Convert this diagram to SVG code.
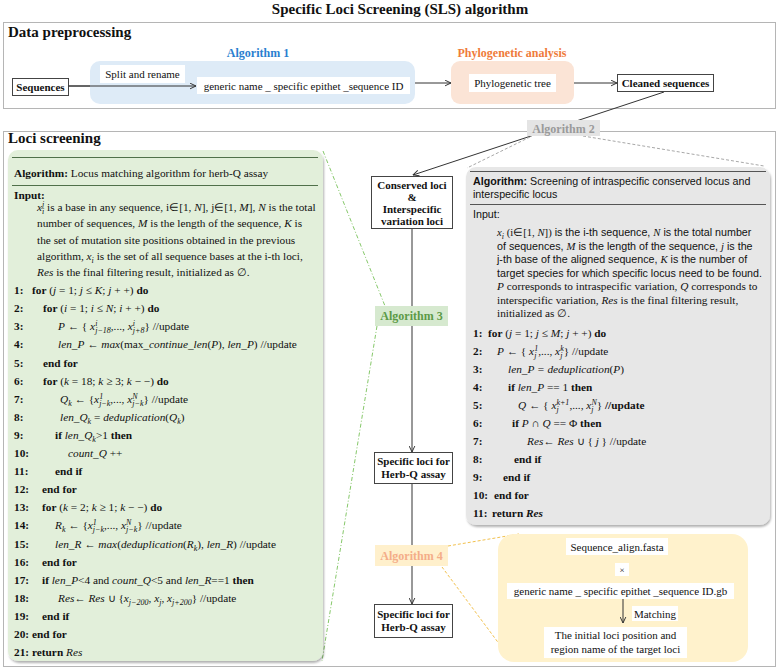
<svg xmlns="http://www.w3.org/2000/svg" width="778" height="670" viewBox="0 0 778 670">
<defs>
<style>
text { font-family: "Liberation Serif", "Times New Roman", serif; fill: #111; }
.h { font-size: 15px; font-weight: bold; }
.nd { font-size: 11px; font-weight: bold; text-anchor: middle; }
.lb { font-size: 12px; font-weight: bold; text-anchor: middle; }
.w { font-size: 11px; text-anchor: middle; }
.c { font-size: 11.3px; }
.s { font-family: "Liberation Sans", Arial, sans-serif; font-size: 10.7px; }
.r { font-family: "Liberation Serif", "Times New Roman", serif; }
.m { font-family: "Liberation Serif", "Times New Roman", serif; font-style: italic; }
.b { font-weight: bold; }
.i { font-style: italic; }
.sc { font-size: 8px; font-style: italic; font-family: "Liberation Serif", "Times New Roman", serif; }
.border { fill: none; stroke: #6b6b6b; stroke-width: 1; stroke-dasharray: 1 1; }
.box { fill: #fff; stroke: #444; stroke-width: 1; }
.wb { fill: #fff; }
.ln { fill: none; stroke: #333; stroke-width: 1; }
.hr { stroke-width: 1; }
</style>
<marker id="ah" viewBox="0 0 10 10" refX="9.5" refY="5" markerWidth="7" markerHeight="7" orient="auto" markerUnits="userSpaceOnUse">
<path d="M1,1 L9.5,5 L1,9" fill="none" stroke="#333" stroke-width="1.4"/>
</marker>
<filter id="sh" x="-5%" y="-5%" width="110%" height="110%">
<feDropShadow dx="1" dy="2" stdDeviation="1.2" flood-color="#000" flood-opacity="0.3"/>
</filter>
</defs>

<g id="title">
<text x="400" y="14" class="h" text-anchor="middle">Specific Loci Screening (SLS) algorithm</text>
</g>

<g id="data-preprocessing">
<rect x="3.5" y="22.5" width="772" height="86" class="border"/>
<text x="8" y="37" class="h">Data preprocessing</text>
</g>

<g id="loci-screening">
<rect x="3.5" y="131.5" width="772" height="535" class="border"/>
<text x="8" y="143" class="h">Loci screening</text>
</g>

<g id="connectors">
<path d="M68,86 H196" class="ln" marker-end="url(#ah)"/>
<path d="M410,83 H451" class="ln" marker-end="url(#ah)"/>
<path d="M574,83 H617" class="ln" marker-end="url(#ah)"/>
<path d="M664,92 L413,175" class="ln" marker-end="url(#ah)"/>
<path d="M412,229 V452" class="ln" marker-end="url(#ah)"/>
<path d="M412,484 V604" class="ln" marker-end="url(#ah)"/>
<path d="M323,151 L385,306" fill="none" stroke="#86c86a" stroke-width="1" stroke-dasharray="4 2 1 2"/>
<path d="M377,326 L322,661" fill="none" stroke="#86c86a" stroke-width="1" stroke-dasharray="4 2 1 2"/>
<path d="M530,137 L467,168" fill="none" stroke="#a8a8a8" stroke-width="1" stroke-dasharray="3 2"/>
<path d="M583,136 L764,166" fill="none" stroke="#a8a8a8" stroke-width="1" stroke-dasharray="3 2"/>
<path d="M448,546 L519,534" fill="none" stroke="#f2c14e" stroke-width="1" stroke-dasharray="3 2"/>
<path d="M442,567 L500,645" fill="none" stroke="#f2c14e" stroke-width="1" stroke-dasharray="3 2"/>
<path d="M623,599 V623" class="ln" marker-end="url(#ah)"/>
</g>

<g id="sequences">
<rect x="12.5" y="78.5" width="56" height="17" class="box"/>
<text x="40.5" y="91" class="nd">Sequences</text>
</g>

<g id="algorithm-1">
<text x="258" y="57" class="lb" fill="#2a7fd0" style="fill:#2a7fd0">Algorithm 1</text>
<rect x="90" y="61" width="325" height="43" rx="10" fill="#deebf7"/>
<rect x="100" y="65" width="85" height="18" class="wb"/>
<text x="142.5" y="78" class="w">Split and rename</text>
<rect x="197" y="77" width="213" height="17" class="wb"/>
<text x="303.5" y="89.5" class="w">generic name _ specific epithet _sequence ID</text>
<path d="M68,86 H196" class="ln" marker-end="url(#ah)"/>
</g>

<g id="phylogenetic-analysis">
<text x="512" y="57" class="lb" style="fill:#ef7b3a">Phylogenetic analysis</text>
<rect x="451" y="61" width="123" height="43" rx="9" fill="#fbe4d6"/>
<rect x="469" y="74" width="87" height="18" class="wb"/>
<text x="512.5" y="87" class="w">Phylogenetic tree</text>
</g>

<g id="cleaned-sequences">
<rect x="617.5" y="74.5" width="96" height="17" class="box"/>
<text x="665.5" y="87" class="nd">Cleaned sequences</text>
</g>

<g id="algorithm-2-label">
<rect x="527" y="120" width="73" height="16" fill="#e4e4e4"/>
<text x="563.5" y="132.5" class="lb" style="fill:#9a9a9a">Algorithm 2</text>
</g>

<g id="conserved-loci">
<rect x="371.5" y="176.5" width="81" height="52" class="box"/>
<text x="412" y="189" class="nd">Conserved loci</text>
<text x="412" y="201" class="nd">&amp;</text>
<text x="412" y="213" class="nd">Interspecific</text>
<text x="412" y="225" class="nd">variation loci</text>
</g>

<g id="algorithm-3-label">
<rect x="375" y="306" width="73" height="20" fill="#d6e9cf"/>
<text x="411.5" y="320" class="lb" style="fill:#5c9a47">Algorithm 3</text>
</g>

<g id="specific-loci-1">
<rect x="374.5" y="452.5" width="78" height="31" class="box"/>
<text x="413.5" y="465" class="nd">Specific loci for</text>
<text x="413.5" y="478" class="nd">Herb-Q assay</text>
</g>

<g id="algorithm-4-label">
<rect x="375" y="545" width="73" height="21" fill="#fff0cc"/>
<text x="411.5" y="560" class="lb" style="fill:#f4ad88">Algorithm 4</text>
</g>

<g id="specific-loci-2">
<rect x="374.5" y="604.5" width="78" height="33" class="box"/>
<text x="413.5" y="618" class="nd">Specific loci for</text>
<text x="413.5" y="631" class="nd">Herb-Q assay</text>
</g>

<g id="algorithm-3-box">
<rect x="8" y="150" width="315" height="511" rx="10" fill="#e2efda" filter="url(#sh)"/>
<line x1="12" y1="157.5" x2="318" y2="157.5" stroke="#50704a" class="hr"/>
<line x1="12" y1="185.5" x2="318" y2="185.5" stroke="#50704a" class="hr"/>
<text x="14" y="177" class="c"><tspan class="b">Algorithm:</tspan> Locus matching algorithm for herb-Q assay</text>
<text x="14" y="199" class="c b">Input:</text>
<text x="37" y="211" class="c"><tspan class="i">x</tspan><tspan class="sc" dy="-4">j</tspan><tspan class="sc" dx="-2.2" dy="7">i</tspan><tspan dy="-3"> is a base in any sequence, i∈[1, </tspan><tspan class="i">N</tspan>], j∈[1, <tspan class="i">M</tspan>], <tspan class="i">N</tspan> is the total</text>
<text x="37" y="227" class="c">number of sequences, <tspan class="i">M</tspan> is the length of the sequence, <tspan class="i">K</tspan> is</text>
<text x="37" y="244" class="c">the set of mutation site positions obtained in the previous</text>
<text x="37" y="260" class="c">algorithm, <tspan class="i">x</tspan><tspan class="sc" dy="3">i</tspan><tspan dy="-3"> is the set of all sequence bases at the i-th loci,</tspan></text>
<text x="37" y="276" class="c"><tspan class="i">Res</tspan> is the final filtering result, initialized as ∅.</text>

<text y="294" class="c"><tspan x="14" class="b">1:</tspan><tspan x="32" class="b">for</tspan> (<tspan class="i">j</tspan> = 1; <tspan class="i">j</tspan> ≤ <tspan class="i">K</tspan>; <tspan class="i">j</tspan> + +) <tspan class="b">do</tspan></text>
<text y="312" class="c"><tspan x="14" class="b">2:</tspan><tspan x="43" class="b">for</tspan> (<tspan class="i">i</tspan> = 1; <tspan class="i">i</tspan> ≤ <tspan class="i">N</tspan>; <tspan class="i">i</tspan> + +) <tspan class="b">do</tspan></text>
<text y="330" class="c"><tspan x="14" class="b">3:</tspan><tspan x="58" class="i">P</tspan> ← { <tspan class="i">x</tspan><tspan class="sc" dy="-4">i</tspan><tspan class="sc" dx="-2.2" dy="7">j−18</tspan><tspan dy="-3">,..., </tspan><tspan class="i">x</tspan><tspan class="sc" dy="-4">i</tspan><tspan class="sc" dx="-2.2" dy="7">j+8</tspan><tspan dy="-3">} //update</tspan></text>
<text y="348" class="c"><tspan x="14" class="b">4:</tspan><tspan x="58" class="i">len_P</tspan> ← <tspan class="i">max</tspan>(max_<tspan class="i">continue_len</tspan>(<tspan class="i">P</tspan>), <tspan class="i">len_P</tspan>) //update</text>
<text y="366.5" class="c"><tspan x="14" class="b">5:</tspan><tspan x="43" class="b">end for</tspan></text>
<text y="384.5" class="c"><tspan x="14" class="b">6:</tspan><tspan x="43" class="b">for</tspan>  (<tspan class="i">k</tspan> = 18; <tspan class="i">k</tspan> ≥ 3; <tspan class="i">k</tspan> − −) <tspan class="b">do</tspan></text>
<text y="402.5" class="c"><tspan x="14" class="b">7:</tspan><tspan x="60" class="i">Q</tspan><tspan class="sc" dy="3">k</tspan><tspan dy="-3">  ← {</tspan><tspan class="i">x</tspan><tspan class="sc" dy="-4">1</tspan><tspan class="sc" dx="-4" dy="7">j−k</tspan><tspan dy="-3">,..., </tspan><tspan class="i">x</tspan><tspan class="sc" dy="-4">N</tspan><tspan class="sc" dx="-5.3" dy="7">j−k</tspan><tspan dy="-3">} //update</tspan></text>
<text y="420.5" class="c"><tspan x="14" class="b">8:</tspan><tspan x="60" class="i">len_Q</tspan><tspan class="sc" dy="3">k</tspan><tspan dy="-3"> = </tspan><tspan class="i">deduplication</tspan>(<tspan class="i">Q</tspan><tspan class="sc" dy="3">k</tspan><tspan dy="-3">)</tspan></text>
<text y="439" class="c"><tspan x="14" class="b">9:</tspan><tspan x="55" class="b">if</tspan> <tspan class="i">len_Q</tspan><tspan class="sc" dy="3">k</tspan><tspan dy="-3">&gt;1 </tspan><tspan class="b">then</tspan></text>
<text y="457" class="c"><tspan x="14" class="b">10:</tspan><tspan x="68" class="i">count_Q</tspan> ++</text>
<text y="475" class="c"><tspan x="14" class="b">11:</tspan><tspan x="55" class="b">end if</tspan></text>
<text y="493" class="c"><tspan x="14" class="b">12:</tspan><tspan x="42" class="b">end for</tspan></text>
<text y="511" class="c"><tspan x="14" class="b">13:</tspan><tspan x="42" class="b">for</tspan>  (<tspan class="i">k</tspan> = 2; <tspan class="i">k</tspan> ≥ 1; <tspan class="i">k</tspan> − −) <tspan class="b">do</tspan></text>
<text y="529" class="c"><tspan x="14" class="b">14:</tspan><tspan x="55" class="i">R</tspan><tspan class="sc" dy="3">k</tspan><tspan dy="-3"> ← {</tspan><tspan class="i">x</tspan><tspan class="sc" dy="-4">1</tspan><tspan class="sc" dx="-4" dy="7">j−k</tspan><tspan dy="-3">,..., </tspan><tspan class="i">x</tspan><tspan class="sc" dy="-4">N</tspan><tspan class="sc" dx="-5.3" dy="7">j−k</tspan><tspan dy="-3">} //update</tspan></text>
<text y="547.5" class="c"><tspan x="14" class="b">15:</tspan><tspan x="55" class="i">len_R</tspan> ← <tspan class="i">max</tspan>(<tspan class="i">deduplication</tspan>(<tspan class="i">R</tspan><tspan class="sc" dy="3">k</tspan><tspan dy="-3">), </tspan><tspan class="i">len_R</tspan>) //update</text>
<text y="565.5" class="c"><tspan x="14" class="b">16:</tspan><tspan x="42" class="b">end for</tspan></text>
<text y="583.5" class="c"><tspan x="14" class="b">17:</tspan><tspan x="42" class="b">if</tspan> <tspan class="i">len_P</tspan>&lt;4 and <tspan class="i">count_Q</tspan>&lt;5 and <tspan class="i">len_R</tspan>==1 <tspan class="b">then</tspan></text>
<text y="601.5" class="c"><tspan x="14" class="b">18:</tspan><tspan x="58" class="i">Res</tspan>← <tspan class="i">Res</tspan> ∪ {<tspan class="i">x</tspan><tspan class="sc" dy="3">j−200</tspan><tspan dy="-3">, </tspan><tspan class="i">x</tspan><tspan class="sc" dy="3">j</tspan><tspan dy="-3">, </tspan><tspan class="i">x</tspan><tspan class="sc" dy="3">j+200</tspan><tspan dy="-3">}  //update</tspan></text>
<text y="620" class="c"><tspan x="14" class="b">19:</tspan><tspan x="42" class="b">end if</tspan></text>
<text y="638" class="c"><tspan x="14" class="b">20:</tspan><tspan x="32" class="b">end for</tspan></text>
<text y="656" class="c"><tspan x="14" class="b">21:</tspan><tspan x="32" class="b">return</tspan> <tspan class="i">Res</tspan></text>
</g>

<g id="algorithm-2-box">
<rect x="466" y="167" width="304" height="358" rx="10" fill="#e7e7e7" filter="url(#sh)"/>
<line x1="470" y1="171.5" x2="766" y2="171.5" stroke="#555" class="hr"/>
<line x1="470" y1="204.5" x2="766" y2="204.5" stroke="#555" class="hr"/>
<text x="473" y="185" class="s"><tspan class="b">Algorithm:</tspan> Screening of intraspecific conserved locus and</text>
<text x="473" y="198" class="s">interspecific locus</text>
<text x="473" y="218" class="s">Input:</text>
<text x="497" y="236" class="s"><tspan class="m">x</tspan><tspan class="sc" dy="3">i</tspan><tspan dy="-3" class="r"> (i∈[1, </tspan><tspan class="m">N</tspan><tspan class="r">])</tspan> is the i-th sequence, <tspan class="m">N</tspan> is the total number</text>
<text x="497" y="249.5" class="s">of sequences, <tspan class="m">M</tspan> is the length of the sequence, <tspan class="m">j</tspan> is the</text>
<text x="497" y="263" class="s">j-th base of the aligned sequence, <tspan class="m">K</tspan> is the number of</text>
<text x="497" y="276.5" class="s">target species for which specific locus need to be found.</text>
<text x="497" y="290" class="c"><tspan class="i">P</tspan> corresponds to intraspecific variation, <tspan class="i">Q</tspan> corresponds to</text>
<text x="497" y="303.5" class="c">interspecific variation, <tspan class="i">Res</tspan> is the final filtering result,</text>
<text x="497" y="317" class="c">initialized as ∅.</text>

<text y="337" class="c"><tspan x="473" class="b">1:</tspan><tspan x="488" class="b">for</tspan> (<tspan class="i">j</tspan> = 1; <tspan class="i">j</tspan> ≤ <tspan class="i">M</tspan>; <tspan class="i">j</tspan> + +)  <tspan class="b">do</tspan></text>
<text y="355" class="c"><tspan x="473" class="b">2:</tspan><tspan x="497" class="i">P</tspan> ← { <tspan class="i">x</tspan><tspan class="sc" dy="3">j</tspan><tspan class="sc" dx="-2.2" dy="-7">1</tspan><tspan dy="4">,..., </tspan><tspan class="i">x</tspan><tspan class="sc" dy="3">j</tspan><tspan class="sc" dx="-2.2" dy="-7">k</tspan><tspan dy="4">} //update</tspan></text>
<text y="373" class="c"><tspan x="473" class="b">3:</tspan><tspan x="508" class="i">len_P = deduplication</tspan>(<tspan class="i">P</tspan>)</text>
<text y="391" class="c"><tspan x="473" class="b">4:</tspan><tspan x="508" class="b">if</tspan> <tspan class="i">len_P</tspan> == 1 <tspan class="b">then</tspan></text>
<text y="409" class="c"><tspan x="473" class="b">5:</tspan><tspan x="518" class="i">Q</tspan> ← { <tspan class="i">x</tspan><tspan class="sc" dy="3">j</tspan><tspan class="sc" dx="-2.2" dy="-7">k+1</tspan><tspan dy="4">,..., </tspan><tspan class="i">x</tspan><tspan class="sc" dy="3">j</tspan><tspan class="sc" dx="-2.2" dy="-7">N</tspan><tspan dy="4">} </tspan><tspan class="b">//update</tspan></text>
<text y="427" class="c"><tspan x="473" class="b">6:</tspan><tspan x="512" class="b">if</tspan>  <tspan class="i">P</tspan>  ∩  <tspan class="i">Q</tspan>  ==  Φ <tspan class="b">then</tspan></text>
<text y="445" class="c"><tspan x="473" class="b">7:</tspan><tspan x="527" class="i">Res</tspan>← <tspan class="i">Res</tspan> ∪ { <tspan class="i">j</tspan> } //update</text>
<text y="463" class="c"><tspan x="473" class="b">8:</tspan><tspan x="514" class="b">end if</tspan></text>
<text y="481" class="c"><tspan x="473" class="b">9:</tspan><tspan x="503" class="b">end if</tspan></text>
<text y="499" class="c"><tspan x="473" class="b">10:</tspan><tspan x="494" class="b">end for</tspan></text>
<text y="517" class="c"><tspan x="473" class="b">11:</tspan><tspan x="492" class="b">return</tspan> <tspan class="b i">Res</tspan></text>
</g>

<g id="algorithm-4-box">
<rect x="498" y="534" width="250" height="128" rx="16" fill="#fff2cc"/>
<rect x="566" y="538" width="102" height="17" class="wb"/>
<text x="617" y="551" class="w">Sequence_align.fasta</text>
<rect x="615" y="563" width="14" height="13" class="wb"/>
<text x="622" y="573" class="w" style="font-size:9px">×</text>
<rect x="507" y="583" width="227" height="16" class="wb"/>
<text x="620.5" y="595" class="w">generic name _ specific epithet _sequence ID.gb</text>
<path d="M623,599 V623" class="ln" marker-end="url(#ah)"/>
<rect x="632" y="606" width="46" height="15" class="wb"/>
<text x="655" y="617.5" class="w">Matching</text>
<rect x="544" y="627" width="143" height="31" class="wb"/>
<text x="615.5" y="639" class="w">The initial loci position and</text>
<text x="615.5" y="653" class="w">region name of the target loci</text>
</g>
</svg>
